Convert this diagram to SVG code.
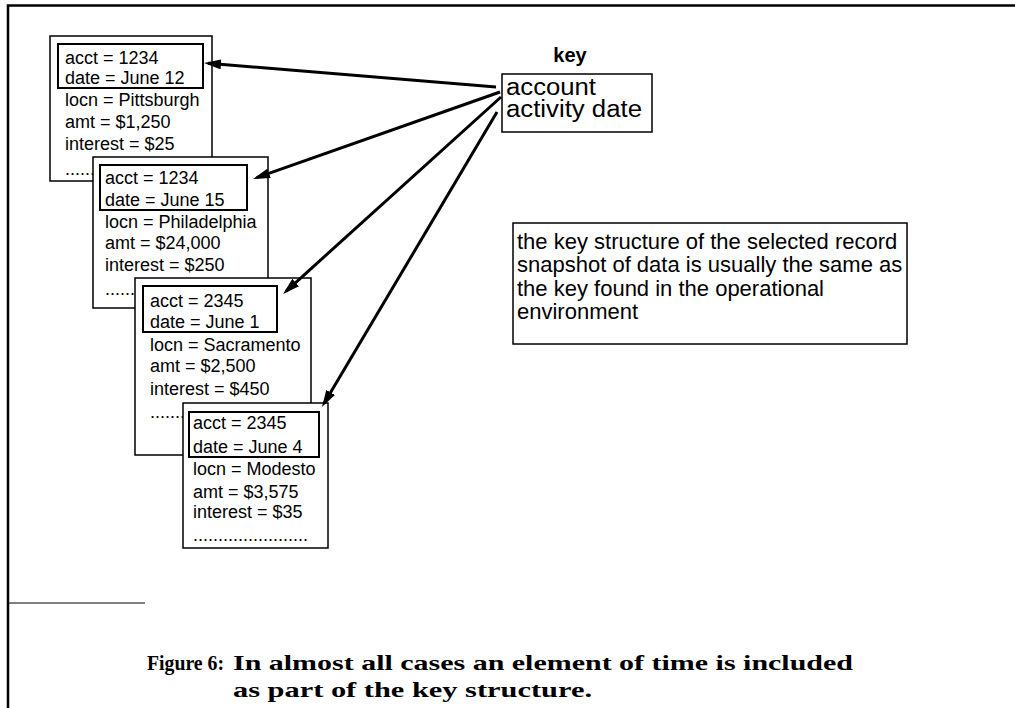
<svg xmlns="http://www.w3.org/2000/svg" width="1015" height="708" viewBox="0 0 1015 708">
  <style>
    .frame { stroke: #000; stroke-width: 2.5; fill: none; }
    .rec { fill: #fff; stroke: #000; stroke-width: 1.5; }
    .keybox { fill: none; stroke: #000; stroke-width: 2; }
    .t { font-family: "Liberation Sans", Arial, sans-serif; font-size: 18px; fill: #000; }
    .big { font-family: "Liberation Sans", Arial, sans-serif; font-size: 23px; fill: #000; }
    .note { font-family: "Liberation Sans", Arial, sans-serif; font-size: 22px; fill: #000; }
    .cap { font-family: "Liberation Serif", "Times New Roman", serif; font-size: 22px; font-weight: bold; fill: #000; }
    .conn { stroke: #000; stroke-width: 3; fill: none; marker-end: url(#ah); }
  </style>
  <defs>
    <marker id="ah" viewBox="0 0 17 10" markerWidth="17" markerHeight="10" refX="13" refY="5" orient="auto" markerUnits="userSpaceOnUse">
      <path d="M0,0 L17,5 L0,10 z" fill="#000"/>
    </marker>
  </defs>
  <rect width="1015" height="708" fill="#fff"/>

  <!-- page frame -->
  <g id="frame">
    <path class="frame" d="M8,708 V5.5 H1015"/>
    <line x1="7" y1="603" x2="145" y2="603" stroke="#000" stroke-width="1"/>
  </g>

  <!-- record 1 -->
  <g id="rec1">
    <rect class="rec" x="50" y="36" width="162" height="145"/>
    <rect class="keybox" x="58" y="44" width="145" height="44"/>
    <text class="t" x="65" y="64">acct = 1234</text>
    <text class="t" x="65" y="84">date = June 12</text>
    <text class="t" x="65" y="106">locn = Pittsburgh</text>
    <text class="t" x="65" y="128">amt = $1,250</text>
    <text class="t" x="65" y="150">interest = $25</text>
    <text class="t" x="65" y="175">......</text>
  </g>

  <!-- record 2 -->
  <g id="rec2">
    <rect class="rec" x="93" y="157" width="175" height="151"/>
    <rect class="keybox" x="100" y="165" width="147" height="45"/>
    <text class="t" x="105" y="184">acct = 1234</text>
    <text class="t" x="105" y="206">date = June 15</text>
    <text class="t" x="105" y="228">locn = Philadelphia</text>
    <text class="t" x="105" y="249">amt = $24,000</text>
    <text class="t" x="105" y="271">interest = $250</text>
    <text class="t" x="105" y="295">.......</text>
  </g>

  <!-- record 3 -->
  <g id="rec3">
    <rect class="rec" x="135" y="278" width="176" height="177"/>
    <rect class="keybox" x="143" y="286" width="134" height="46"/>
    <text class="t" x="150" y="307">acct = 2345</text>
    <text class="t" x="150" y="328">date = June 1</text>
    <text class="t" x="150" y="351">locn = Sacramento</text>
    <text class="t" x="150" y="372">amt = $2,500</text>
    <text class="t" x="150" y="395">interest = $450</text>
    <text class="t" x="150" y="418">.......</text>
  </g>

  <!-- record 4 -->
  <g id="rec4">
    <rect class="rec" x="183" y="403" width="145" height="145"/>
    <rect class="keybox" x="189" y="412" width="130" height="45"/>
    <text class="t" x="193" y="429">acct = 2345</text>
    <text class="t" x="193" y="453">date = June 4</text>
    <text class="t" x="193" y="475">locn = Modesto</text>
    <text class="t" x="193" y="498">amt = $3,575</text>
    <text class="t" x="193" y="518">interest = $35</text>
    <text class="t" x="193" y="541">.......................</text>
  </g>

  <!-- key definition -->
  <g id="key">
    <text x="570" y="62" text-anchor="middle" font-family="Liberation Sans, Arial, sans-serif" font-size="20" font-weight="bold">key</text>
    <rect class="rec" x="502" y="74" width="150" height="58"/>
    <text class="big" x="506" y="95" textLength="90" lengthAdjust="spacingAndGlyphs">account</text>
    <text class="big" x="506" y="117" textLength="136" lengthAdjust="spacingAndGlyphs">activity date</text>
  </g>

  <!-- explanatory note -->
  <g id="note">
    <rect class="rec" x="513" y="223" width="394" height="121"/>
    <text class="note" x="517" y="249">the key structure of the selected record</text>
    <text class="note" x="517" y="272">snapshot of data is usually the same as</text>
    <text class="note" x="517" y="296">the key found in the operational</text>
    <text class="note" x="517" y="319">environment</text>
  </g>

  <!-- arrows from the key to each record's key fields -->
  <g id="connectors">
    <line class="conn" x1="496" y1="87" x2="208" y2="63.3"/>
    <line class="conn" x1="500" y1="92" x2="256.8" y2="177.7"/>
    <line class="conn" x1="501" y1="97" x2="286" y2="291.3"/>
    <line class="conn" x1="497" y1="112" x2="324" y2="403.6"/>
  </g>

  <!-- caption -->
  <g id="caption">
    <text class="cap" x="147" y="670" textLength="77" lengthAdjust="spacingAndGlyphs">Figure 6:</text>
    <text class="cap" x="233" y="670" textLength="620" lengthAdjust="spacingAndGlyphs">In almost all cases an element of time is included</text>
    <text class="cap" x="233" y="697" textLength="359" lengthAdjust="spacingAndGlyphs">as part of the key structure.</text>
  </g>
</svg>
